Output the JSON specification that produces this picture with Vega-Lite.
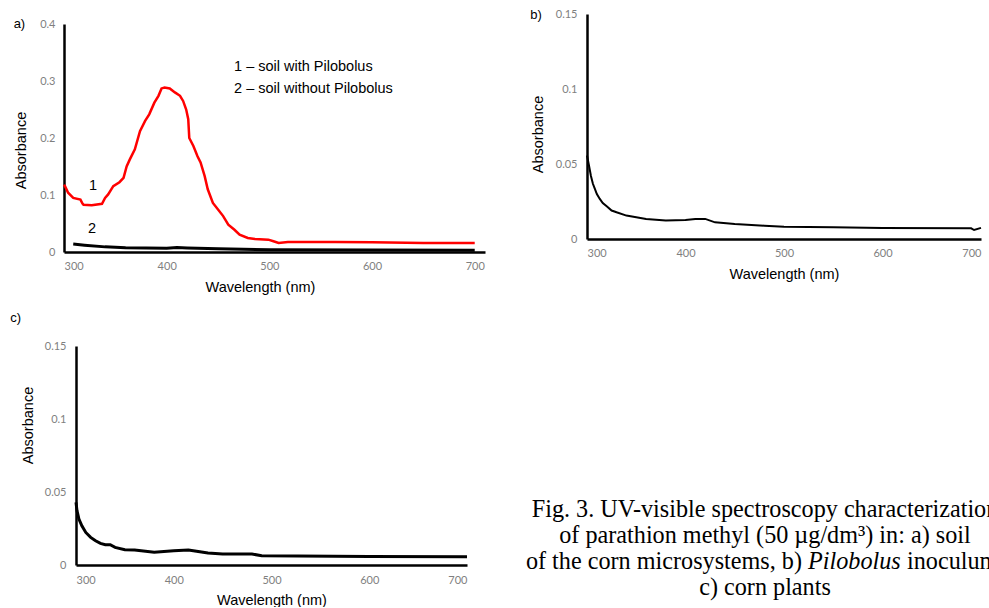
{
  "$schema": "https://vega.github.io/schema/vega-lite/v6.json",
  "padding": {"left": 10, "top": 8, "right": 0, "bottom": 0},
  "background": "white",
  "config": {
    "view": {"stroke": null},
    "axis": {
      "domainColor": "black",
      "domainWidth": 2.5,
      "ticks": false,
      "grid": false,
      "labelFont": "Lato",
      "labelFontSize": 11,
      "labelColor": "#7f7f7f",
      "labelExpr": "'' + datum.value",
      "titleFont": "Liberation Sans",
      "titleFontSize": 14.5,
      "titleFontWeight": "normal",
      "titleColor": "black"
    },
    "title": {"font": "Liberation Sans", "fontSize": 13, "fontWeight": "normal", "anchor": "start", "frame": "bounds", "color": "black"}
  },
  "datasets": {
    "red": [
      {"wl": 300, "abs": 0.118}, {"wl": 301, "abs": 0.1155}, {"wl": 304, "abs": 0.104}, {"wl": 309, "abs": 0.095},
      {"wl": 316, "abs": 0.092}, {"wl": 318, "abs": 0.085}, {"wl": 319, "abs": 0.083}, {"wl": 327, "abs": 0.082},
      {"wl": 337, "abs": 0.0845}, {"wl": 340, "abs": 0.095}, {"wl": 343, "abs": 0.101}, {"wl": 348, "abs": 0.1155},
      {"wl": 354, "abs": 0.1225}, {"wl": 358, "abs": 0.13}, {"wl": 361, "abs": 0.15}, {"wl": 364, "abs": 0.162},
      {"wl": 369, "abs": 0.18}, {"wl": 374, "abs": 0.212}, {"wl": 379, "abs": 0.23}, {"wl": 383, "abs": 0.2415},
      {"wl": 388, "abs": 0.262}, {"wl": 392, "abs": 0.274}, {"wl": 395, "abs": 0.287}, {"wl": 398, "abs": 0.2886},
      {"wl": 403, "abs": 0.287}, {"wl": 408, "abs": 0.28}, {"wl": 413, "abs": 0.274}, {"wl": 416, "abs": 0.265},
      {"wl": 419, "abs": 0.25}, {"wl": 421, "abs": 0.233}, {"wl": 422, "abs": 0.2}, {"wl": 426, "abs": 0.186},
      {"wl": 430, "abs": 0.168}, {"wl": 433, "abs": 0.157}, {"wl": 437, "abs": 0.133}, {"wl": 440, "abs": 0.11},
      {"wl": 445, "abs": 0.086}, {"wl": 450, "abs": 0.0745}, {"wl": 455, "abs": 0.063}, {"wl": 460, "abs": 0.048},
      {"wl": 466, "abs": 0.039}, {"wl": 471, "abs": 0.0305}, {"wl": 479, "abs": 0.0246}, {"wl": 486, "abs": 0.023},
      {"wl": 499, "abs": 0.0217}, {"wl": 504, "abs": 0.0188}, {"wl": 509, "abs": 0.0158}, {"wl": 518, "abs": 0.0176},
      {"wl": 564, "abs": 0.0176}, {"wl": 600, "abs": 0.017}, {"wl": 650, "abs": 0.016}, {"wl": 700, "abs": 0.0158}
    ],
    "blackA": [
      {"wl": 309, "abs": 0.014}, {"wl": 320, "abs": 0.012}, {"wl": 340, "abs": 0.009}, {"wl": 360, "abs": 0.0075},
      {"wl": 400, "abs": 0.0065}, {"wl": 410, "abs": 0.0078}, {"wl": 420, "abs": 0.007}, {"wl": 450, "abs": 0.0055},
      {"wl": 500, "abs": 0.004}, {"wl": 600, "abs": 0.0035}, {"wl": 700, "abs": 0.003}
    ],
    "labelsA": [
      {"wl": 324.4, "abs": 0.1158, "label": "1"},
      {"wl": 323.4, "abs": 0.04, "label": "2"},
      {"wl": 465.6, "abs": 0.3246, "label": "1 – soil with Pilobolus"},
      {"wl": 465.6, "abs": 0.286, "label": "2 – soil without Pilobolus"}
    ],
    "curveB": [
      {"wl": 300, "abs": 0.0557}, {"wl": 302, "abs": 0.049}, {"wl": 304, "abs": 0.042}, {"wl": 306, "abs": 0.0368},
      {"wl": 308, "abs": 0.0334}, {"wl": 310, "abs": 0.03}, {"wl": 313, "abs": 0.0267}, {"wl": 316, "abs": 0.024},
      {"wl": 320, "abs": 0.0218}, {"wl": 325, "abs": 0.019}, {"wl": 330, "abs": 0.0178}, {"wl": 340, "abs": 0.0156},
      {"wl": 350, "abs": 0.0145}, {"wl": 360, "abs": 0.0134}, {"wl": 380, "abs": 0.0123}, {"wl": 400, "abs": 0.0127},
      {"wl": 410, "abs": 0.0134}, {"wl": 420, "abs": 0.0134}, {"wl": 430, "abs": 0.0111}, {"wl": 450, "abs": 0.01},
      {"wl": 480, "abs": 0.0089}, {"wl": 500, "abs": 0.0082}, {"wl": 550, "abs": 0.0078}, {"wl": 600, "abs": 0.0074},
      {"wl": 690, "abs": 0.0071}, {"wl": 693, "abs": 0.006}, {"wl": 700, "abs": 0.0074}
    ],
    "curveC": [
      {"wl": 300, "abs": 0.0429}, {"wl": 301, "abs": 0.0372}, {"wl": 303, "abs": 0.0315}, {"wl": 306, "abs": 0.0269},
      {"wl": 310, "abs": 0.0223}, {"wl": 315, "abs": 0.0189}, {"wl": 320, "abs": 0.0166}, {"wl": 325, "abs": 0.0148},
      {"wl": 330, "abs": 0.0139}, {"wl": 335, "abs": 0.0139}, {"wl": 340, "abs": 0.0121}, {"wl": 350, "abs": 0.0105},
      {"wl": 360, "abs": 0.0103}, {"wl": 380, "abs": 0.0087}, {"wl": 400, "abs": 0.0098}, {"wl": 415, "abs": 0.0103},
      {"wl": 425, "abs": 0.0093}, {"wl": 435, "abs": 0.0082}, {"wl": 450, "abs": 0.0075}, {"wl": 480, "abs": 0.0075},
      {"wl": 490, "abs": 0.0064}, {"wl": 600, "abs": 0.0059}, {"wl": 700, "abs": 0.0057}
    ],
    "caption": [
      {"line": 1, "part": "full", "text": "Fig. 3. UV-visible spectroscopy characterization"},
      {"line": 2, "part": "full", "text": "of parathion methyl (50 µg/dm³) in: a) soil"},
      {"line": 3, "part": "pre", "text": "of the corn microsystems, b)"},
      {"line": 3, "part": "italic", "text": "Pilobolus"},
      {"line": 3, "part": "post", "text": "inoculum,"},
      {"line": 4, "part": "full", "text": "c) corn plants"}
    ]
  },
  "spacing": 40,
  "hconcat": [
    {
      "spacing": 17,
      "center": true,
      "vconcat": [
        {
          "width": 421,
          "height": 238,
          "title": {"text": "a)", "offset": -17},
          "layer": [
            {
              "data": {"name": "red"},
              "mark": {"type": "line", "color": "#ff0000", "strokeWidth": 2.5},
              "encoding": {
                "x": {"field": "wl", "type": "quantitative", "scale": {"domain": [300, 710], "nice": false},
                      "axis": {"values": [300, 400, 500, 600, 700], "labelPadding": 8, "titlePadding": 9, "titleX": 196, "title": "Wavelength (nm)"}},
                "y": {"field": "abs", "type": "quantitative", "scale": {"domain": [0, 0.4], "range": [238, 10], "nice": false},
                      "axis": {"values": [0, 0.1, 0.2, 0.3, 0.4], "labelPadding": 9, "titlePadding": 11, "titleY": 136, "title": "Absorbance"}}
              }
            },
            {
              "data": {"name": "blackA"},
              "mark": {"type": "line", "color": "black", "strokeWidth": 3},
              "encoding": {
                "x": {"field": "wl", "type": "quantitative"},
                "y": {"field": "abs", "type": "quantitative"}
              }
            },
            {
              "data": {"name": "labelsA"},
              "mark": {"type": "text", "font": "Liberation Sans", "fontSize": 14.5, "align": "left", "baseline": "middle", "color": "black"},
              "encoding": {
                "x": {"field": "wl", "type": "quantitative"},
                "y": {"field": "abs", "type": "quantitative"},
                "text": {"field": "label"}
              }
            }
          ]
        },
        {
          "width": 391,
          "height": 219,
          "title": {"text": "c)", "offset": 15.5, "dx": -10},
          "data": {"name": "curveC"},
          "mark": {"type": "line", "color": "black", "strokeWidth": 3},
          "encoding": {
            "x": {"field": "wl", "type": "quantitative", "scale": {"domain": [300, 700], "nice": false},
                  "axis": {"values": [300, 400, 500, 600, 700], "labelPadding": 9, "titlePadding": 8, "title": "Wavelength (nm)"}},
            "y": {"field": "abs", "type": "quantitative", "scale": {"domain": [0, 0.15], "nice": false},
                  "axis": {"values": [0, 0.05, 0.1, 0.15], "labelPadding": 10, "titlePadding": 9, "titleY": 79, "title": "Absorbance"}}
          }
        }
      ]
    },
    {
      "spacing": 217,
      "vconcat": [
        {
          "width": 394,
          "height": 225,
          "title": {"text": "b)", "offset": -13.5},
          "data": {"name": "curveB"},
          "mark": {"type": "line", "color": "black", "strokeWidth": 2},
          "encoding": {
            "x": {"field": "wl", "type": "quantitative", "scale": {"domain": [300, 700], "nice": false},
                  "axis": {"values": [300, 400, 500, 600, 700], "labelPadding": 8, "titlePadding": 9, "title": "Wavelength (nm)"}},
            "y": {"field": "abs", "type": "quantitative", "scale": {"domain": [0, 0.15], "nice": false},
                  "axis": {"values": [0, 0.05, 0.1, 0.15], "labelPadding": 10, "titlePadding": 10, "titleY": 120, "title": "Absorbance"}}
          }
        },
        {
          "width": 356,
          "height": 78,
          "data": {"name": "caption"},
          "encoding": {
            "y": {"field": "line", "type": "ordinal", "scale": {"type": "point", "padding": 0}, "axis": null},
            "text": {"field": "text"}
          },
          "layer": [
            {
              "transform": [{"filter": "datum.part === 'full'"}],
              "mark": {"type": "text", "font": "Liberation Serif", "fontSize": 24.2, "align": "center", "baseline": "alphabetic", "color": "black"}
            },
            {
              "transform": [{"filter": "datum.part === 'pre'"}],
              "mark": {"type": "text", "font": "Liberation Serif", "fontSize": 24.2, "align": "right", "baseline": "alphabetic", "dx": 37, "color": "black"}
            },
            {
              "transform": [{"filter": "datum.part === 'italic'"}],
              "mark": {"type": "text", "font": "Liberation Serif", "fontSize": 24.2, "fontStyle": "italic", "align": "left", "baseline": "alphabetic", "dx": 43, "color": "black"}
            },
            {
              "transform": [{"filter": "datum.part === 'post'"}],
              "mark": {"type": "text", "font": "Liberation Serif", "fontSize": 24.2, "align": "left", "baseline": "alphabetic", "dx": 142, "color": "black"}
            }
          ]
        }
      ]
    }
  ]
}
